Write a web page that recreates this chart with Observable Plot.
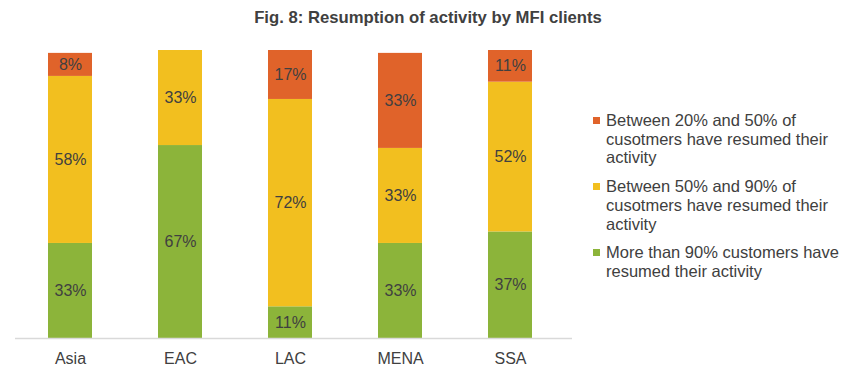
<!DOCTYPE html>
<html>
<head>
<meta charset="utf-8">
<script src="https://cdn.jsdelivr.net/npm/d3@7"></script>
<script src="https://cdn.jsdelivr.net/npm/@observablehq/plot@0.6"></script>
<style>
  html, body { margin: 0; padding: 0; background: #fff; }
  body { width: 850px; height: 372px; position: relative; overflow: hidden;
         font-family: "Liberation Sans", Arial, sans-serif; color: #404040; }
  #title { position: absolute; left: 0; width: 856px; top: 8px; text-align: center;
           font-weight: bold; font-size: 16.7px; line-height: 20px; color: #404040; }
  #chart { position: absolute; left: 0; top: 36px; }
  #legend { position: absolute; left: 593px; top: 111px; font-size: 16.5px; line-height: 18.7px; }
  .item { position: relative; padding-left: 13px; margin-bottom: 10px; white-space: nowrap; }
  .sw { position: absolute; left: 0; top: 6px; width: 7px; height: 7px; }
</style>
</head>
<body>
<div id="title">Fig. 8: Resumption of activity by MFI clients</div>
<div id="chart"></div>
<div id="legend"></div>
<script>
const regions = ["Asia", "EAC", "LAC", "MENA", "SSA"];
const seriesNames = [
  "More than 90% customers have resumed their activity",
  "Between 50% and 90% of cusotmers have resumed their activity",
  "Between 20% and 50% of cusotmers have resumed their activity"
];
const seriesLegendLines = [
  ["More than 90% customers have", "resumed their activity"],
  ["Between 50% and 90% of", "cusotmers have resumed their", "activity"],
  ["Between 20% and 50% of", "cusotmers have resumed their", "activity"]
];
const seriesColors = ["#8cb43a", "#f2bf1f", "#e0632a"];
const over90 = [33, 67, 11, 33, 37];
const between50and90 = [58, 33, 72, 33, 52];
const between20and50 = [8, 0, 17, 33, 11];
const valuesBySeries = [over90, between50and90, between20and50];

const data = [];
regions.forEach((r, i) => {
  valuesBySeries.forEach((vals, s) => {
    data.push({region: r, series: seriesNames[s], value: vals[i]});
  });
});

const plot = Plot.plot({
  width: 585,
  height: 336,
  marginLeft: 15,
  marginRight: 13,
  marginTop: 14,
  marginBottom: 34,
  style: {fontFamily: "'Liberation Sans', Arial, sans-serif", color: "#404040", background: "white"},
  x: {domain: regions, paddingInner: 0.6, paddingOuter: 0.3, insetRight: 7, label: null},
  y: {domain: [0, 100], axis: null},
  color: {domain: seriesNames, range: seriesColors},
  marks: [
    Plot.barY(data, {x: "region", y: "value", fill: "series", order: null}),
    Plot.ruleY([0], {stroke: "#d9d9d9", strokeWidth: 1.3}),
    Plot.text(data.filter(d => d.value > 0), Plot.stackY({
      x: "region", y: "value", z: "series", order: null,
      text: d => `${d.value}%`, fontSize: 16, fill: "#404040"
    })),
    Plot.axisX({tickSize: 0, tickPadding: 14, fontSize: 16, fill: "#404040", label: null})
  ]
});
document.getElementById("chart").appendChild(plot);

const legend = document.getElementById("legend");
[2, 1, 0].forEach(s => {
  const item = document.createElement("div");
  item.className = "item";
  const sw = document.createElement("span");
  sw.className = "sw";
  sw.style.background = seriesColors[s];
  item.appendChild(sw);
  const txt = document.createElement("div");
  txt.innerHTML = seriesLegendLines[s].join("<br>");
  item.appendChild(txt);
  legend.appendChild(item);
});
</script>
</body>
</html>
